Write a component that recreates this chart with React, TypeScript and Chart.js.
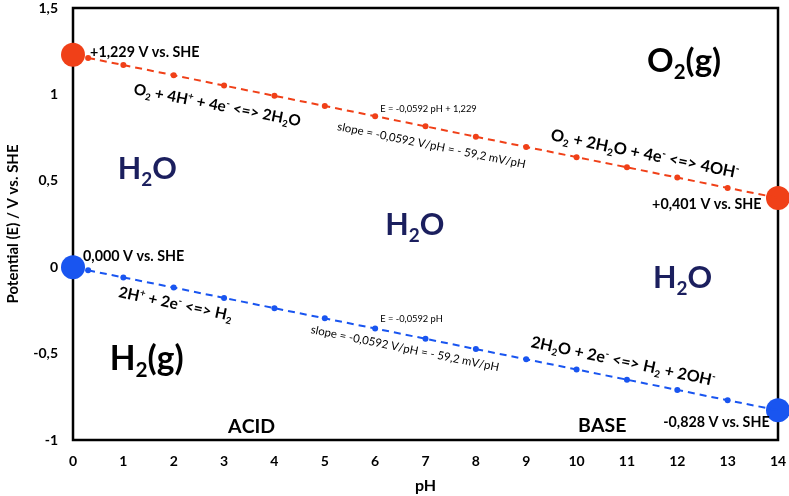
import React, { useEffect, useRef } from "react";
import { Chart, registerables } from "chart.js";

Chart.register(...registerables);

// pH positions of the line points
const pHPoints = [0.3, 1, 2, 3, 4, 5, 6, 7, 8, 9, 10, 11, 12, 13, 14];
// O2/H2O line potential (V vs. SHE)
const o2Values = [1.211, 1.170, 1.111, 1.051, 0.992, 0.933, 0.874, 0.815, 0.755, 0.696, 0.637, 0.578, 0.519, 0.459, 0.401];
// H+/H2 line potential (V vs. SHE)
const h2Values = [-0.018, -0.059, -0.118, -0.178, -0.237, -0.296, -0.355, -0.414, -0.474, -0.533, -0.592, -0.651, -0.710, -0.770, -0.828];
// End points (big markers)
const endPH = [0, 14];
const o2Ends = [1.229, 0.401];
const h2Ends = [0.0, -0.828];

const RED = "rgb(240,64,24)";
const BLUE = "rgb(25,85,240)";
const NAVY = "#1b1f5e";
const FONT = "Lato, 'Open Sans', sans-serif";

type Ann = { t: string; x: number; y: number; size: number; bold?: boolean; color?: string; rot?: number };

const annotations: Ann[] = [
  { t: "+1,229 V vs. SHE", x: 0.34, y: 1.216, size: 14.3, bold: true },
  { t: "O_2 + 4H^+ + 4e^- <=> 2H_2O", x: 1.19, y: 1.002, size: 15.3, bold: true, rot: 11 },
  { t: "E = -0,0592 pH + 1,229", x: 6.1, y: 0.898, size: 9.3 },
  { t: "slope = -0,0592 V/pH = - 59,2 mV/pH", x: 5.24, y: 0.794, size: 11.4, rot: 11.5 },
  { t: "O_2 + 2H_2O + 4e^- <=> 4OH^-", x: 9.47, y: 0.736, size: 16.3, bold: true, rot: 11.5 },
  { t: "+0,401 V vs. SHE", x: 11.5, y: 0.337, size: 14.3, bold: true },
  { t: "O_2(g)", x: 11.4, y: 1.13, size: 33, bold: true },
  { t: "H_2O", x: 0.89, y: 0.51, size: 30.5, bold: true, color: NAVY },
  { t: "H_2O", x: 6.2, y: 0.186, size: 30.5, bold: true, color: NAVY },
  { t: "H_2O", x: 11.52, y: -0.12, size: 30.5, bold: true, color: NAVY },
  { t: "0,000 V vs. SHE", x: 0.2, y: 0.036, size: 14.3, bold: true },
  { t: "2H^+ + 2e^- <=> H_2", x: 0.89, y: -0.172, size: 15.5, bold: true, rot: 12 },
  { t: "H_2(g)", x: 0.73, y: -0.595, size: 33.5, bold: true },
  { t: "E = -0,0592 pH", x: 6.1, y: -0.317, size: 9.3 },
  { t: "slope = -0,0592 V/pH = - 59,2 mV/pH", x: 4.71, y: -0.381, size: 11.4, rot: 11.5 },
  { t: "2H_2O + 2e^- <=> H_2 + 2OH^-", x: 9.08, y: -0.462, size: 16, bold: true, rot: 12 },
  { t: "-0,828 V vs. SHE", x: 11.72, y: -0.925, size: 14.3, bold: true },
  { t: "ACID", x: 3.08, y: -0.96, size: 19.5, bold: true },
  { t: "BASE", x: 10.03, y: -0.954, size: 19.5, bold: true },
];

function drawRich(ctx: CanvasRenderingContext2D, a: Ann, px: number, py: number) {
  const weight = a.bold ? "bold " : "";
  const segs: { s: string; mode: number }[] = [];
  for (let i = 0; i < a.t.length; i++) {
    const c = a.t[i];
    if ((c === "_" || c === "^") && i + 1 < a.t.length) {
      segs.push({ s: a.t[i + 1], mode: c === "_" ? 1 : 2 });
      i++;
    } else {
      segs.push({ s: c, mode: 0 });
    }
  }
  ctx.save();
  ctx.translate(px, py);
  if (a.rot) ctx.rotate((a.rot * Math.PI) / 180);
  ctx.fillStyle = a.color || "#000";
  ctx.textBaseline = "alphabetic";
  ctx.textAlign = "left";
  let x = 0;
  for (const sg of segs) {
    let size = a.size;
    let dy = 0;
    if (sg.mode === 1) { size = a.size * 0.62; dy = a.size * 0.22; }
    if (sg.mode === 2) { size = a.size * 0.62; dy = -a.size * 0.38; }
    ctx.font = `${weight}${size}px ${FONT}`;
    ctx.fillText(sg.s, x, dy);
    x += ctx.measureText(sg.s).width;
  }
  ctx.restore();
}

const annPlugin = {
  id: "annPlugin",
  beforeDatasetsDraw(chart: any) {
    const { ctx, chartArea } = chart;
    ctx.save();
    ctx.strokeStyle = "#000";
    ctx.lineWidth = 2.5;
    ctx.strokeRect(chartArea.left, chartArea.top, chartArea.right - chartArea.left, chartArea.bottom - chartArea.top);
    ctx.restore();
  },
  afterDatasetsDraw(chart: any) {
    const { ctx, scales } = chart;
    for (const a of annotations) {
      drawRich(ctx, a, scales.x.getPixelForValue(a.x), scales.y.getPixelForValue(a.y));
    }
  },
};

export default function App() {
  const ref = useRef<HTMLCanvasElement>(null);
  useEffect(() => {
    if (!ref.current) return;
    const nSmall = pHPoints.map((_, i) => (i === pHPoints.length - 1 ? 0 : 3));
    const chart = new Chart(ref.current, {
      type: "scatter",
      data: {
        datasets: [
          {
            data: pHPoints.map((x, i) => ({ x, y: o2Values[i] })),
            showLine: true,
            borderColor: RED,
            backgroundColor: RED,
            borderWidth: 2,
            borderDash: [7, 5],
            pointRadius: nSmall,
            pointBackgroundColor: RED,
            pointBorderWidth: 0,
            clip: false,
          },
          {
            data: pHPoints.map((x, i) => ({ x, y: h2Values[i] })),
            showLine: true,
            borderColor: BLUE,
            backgroundColor: BLUE,
            borderWidth: 2,
            borderDash: [7, 5],
            pointRadius: nSmall,
            pointBackgroundColor: BLUE,
            pointBorderWidth: 0,
            clip: false,
          },
          {
            data: endPH.map((x, i) => ({ x, y: o2Ends[i] })),
            pointRadius: 12,
            pointBackgroundColor: RED,
            pointBorderWidth: 0,
            clip: false,
          },
          {
            data: endPH.map((x, i) => ({ x, y: h2Ends[i] })),
            pointRadius: 12,
            pointBackgroundColor: BLUE,
            pointBorderWidth: 0,
            clip: false,
          },
        ] as any,
      },
      options: {
        animation: false,
        responsive: false,
        events: [],
        layout: { autoPadding: false, padding: { left: 0, right: 11, top: 8, bottom: 0 } },
        plugins: { legend: { display: false }, tooltip: { enabled: false } },
        scales: {
          x: {
            type: "linear",
            min: 0,
            max: 14,
            grid: { display: false, drawTicks: false },
            border: { display: false },
            ticks: { stepSize: 1, padding: 13, color: "#000", font: { family: FONT, weight: "bold", size: 14 } },
            title: { display: true, text: "pH", color: "#000", font: { family: FONT, weight: "bold", size: 16 }, padding: { top: 2, bottom: 1 } },
            afterFit: (s: any) => { s.height = 56; s.paddingLeft = 0; s.paddingRight = 0; },
          },
          y: {
            type: "linear",
            min: -1,
            max: 1.5,
            grid: { display: false, drawTicks: false },
            border: { display: false },
            ticks: {
              stepSize: 0.5,
              padding: 15,
              color: "#000",
              font: { family: FONT, weight: "bold", size: 14 },
              callback: (v: any) => String(v).replace(".", ","),
            },
            title: { display: true, text: "Potential (E) / V vs. SHE", color: "#000", font: { family: FONT, weight: "bold", size: 15 }, padding: { top: 4, bottom: 4 } },
            afterFit: (s: any) => { s.width = 73; s.paddingTop = 0; s.paddingBottom = 0; },
          },
        },
      } as any,
      plugins: [annPlugin],
    });
    return () => chart.destroy();
  }, []);
  return (
    <div style={{ position: "absolute", left: 0, top: 0, width: 789, height: 496, background: "#fff" }}>
      <canvas ref={ref} width={789} height={496} style={{ display: "block" }} />
    </div>
  );
}
